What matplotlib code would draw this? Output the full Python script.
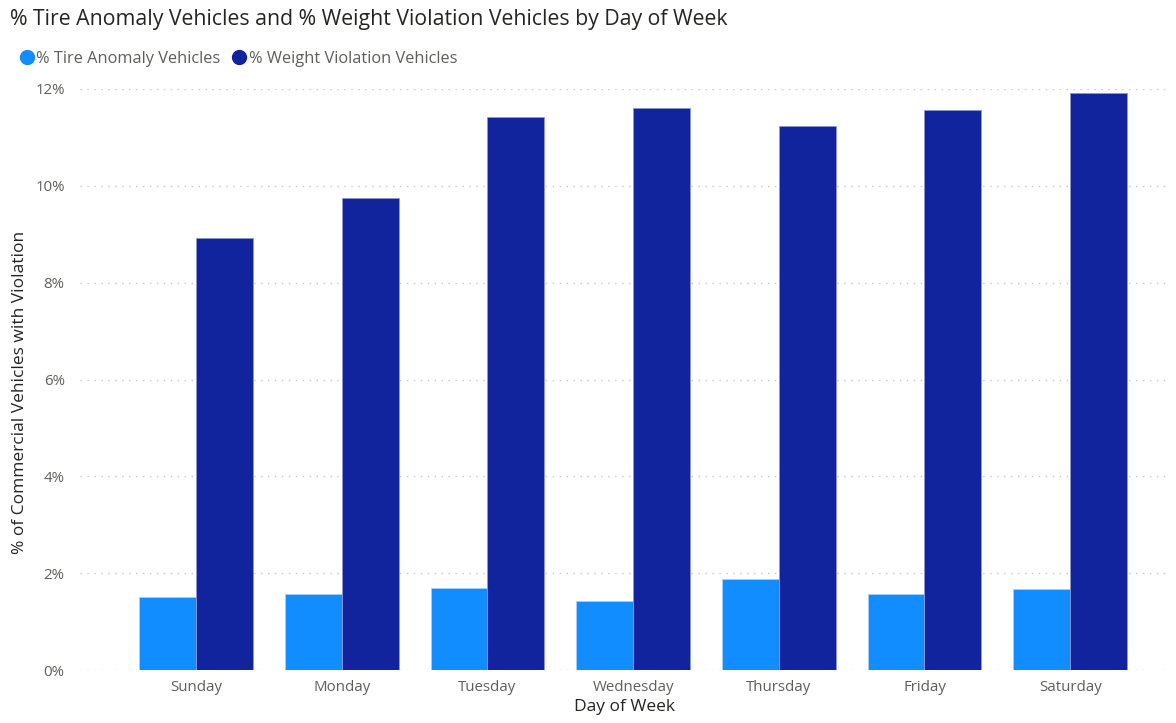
import matplotlib.pyplot as plt
import numpy as np
from matplotlib.lines import Line2D
from matplotlib.ticker import FuncFormatter

days = ["Sunday", "Monday", "Tuesday", "Wednesday", "Thursday", "Friday", "Saturday"]
tire_pct = [1.51, 1.57, 1.69, 1.43, 1.88, 1.57, 1.67]
weight_pct = [8.93, 9.75, 11.43, 11.61, 11.24, 11.57, 11.92]

light = "#118DFF"
dark = "#12239E"
plt.rcParams['font.family'] = ['Open Sans', 'DejaVu Sans']

fig = plt.figure(figsize=(11.76, 7.23), dpi=100)
ax = fig.add_axes([80 / 1176, 53 / 723, 1090 / 1176, 581 / 723])

x = np.arange(len(days))
w = 0.39
ax.bar(x - w / 2, tire_pct, w, color=light, edgecolor="#a8cffa", linewidth=0.6)
ax.bar(x + w / 2, weight_pct, w, color=dark, edgecolor="#8f97d3", linewidth=0.6)

ax.set_ylim(0, 12)
ax.set_xlim(-0.796, 6.685)
ax.set_yticks(range(0, 13, 2))
ax.yaxis.set_major_formatter(FuncFormatter(lambda v, p: f"{v:.0f}%"))
ax.set_xticks(x)
ax.set_xticklabels(days)
ax.tick_params(length=0, labelsize=10.8, labelcolor="#605E5C")
ax.tick_params(axis="y", pad=11)
ax.tick_params(axis="x", pad=7)
ax.grid(axis="y", linestyle=(0, (1, 4)), color="#C8C6C4", linewidth=1)
ax.set_axisbelow(True)
for s in ax.spines.values():
    s.set_visible(False)

ax.set_xlabel("Day of Week", fontsize=12.5, color="#252423", labelpad=3, fontweight="medium")
ax.set_ylabel("% of Commercial Vehicles with Violation", fontsize=12.5, color="#252423", fontweight="medium")
ax.yaxis.set_label_coords(-52 / 1090, 0.478)

fig.text(10 / 1176, 1 - 19 / 723, "% Tire Anomaly Vehicles and % Weight Violation Vehicles by Day of Week",
         fontsize=15.3, color="#252423", va="center", ha="left", fontweight="medium")

handles = [Line2D([], [], marker="o", linestyle="", color=light, markersize=10),
           Line2D([], [], marker="o", linestyle="", color=dark, markersize=10)]
fig.legend(handles, ["% Tire Anomaly Vehicles", "% Weight Violation Vehicles"],
           loc="center left", bbox_to_anchor=(2 / 1176, 1 - 59 / 723), ncol=2, frameon=False,
           fontsize=11.8, handletextpad=0.0, columnspacing=0.5, labelcolor="#605E5C", handlelength=1.2)

fig.savefig("out.png", dpi=100)
